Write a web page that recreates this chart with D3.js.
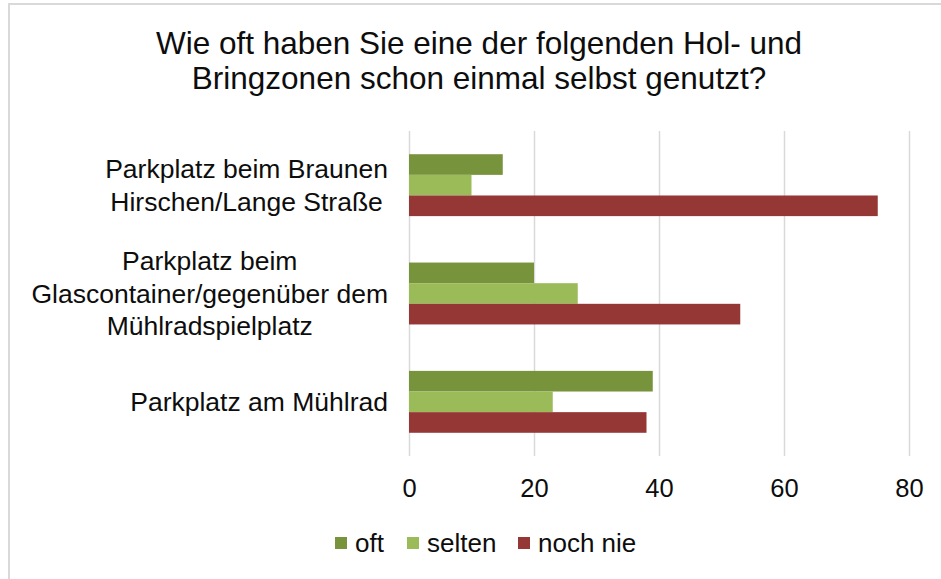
<!DOCTYPE html>
<html lang="de">

<head>
    <meta charset="UTF-8">
    <title>Hol- und Bringzonen</title>
    <script src="https://d3js.org/d3.v7.min.js"></script>
    <style>
        body {
            margin: 0;
            background: #fff;
            overflow: hidden;
        }

        text {
            font-family: "Liberation Sans", Arial, sans-serif;
            fill: #0d0d0d;
        }

        .grid line {
            stroke: #d9d9d9;
            stroke-width: 1.5px;
        }

        .grid .domain {
            display: none;
        }
    </style>
</head>

<body>
    <div id="chart"></div>
</body>

<script>
    // data
    const titleLines = ["Wie oft haben Sie eine der folgenden Hol- und", "Bringzonen schon einmal selbst genutzt?"];
    const categories = ["braun", "glas", "muehl"];
    const categoryLabels = [
        ["Parkplatz beim Braunen", "Hirschen/Lange Straße"],
        ["Parkplatz beim", "Glascontainer/gegenüber dem", "Mühlradspielplatz"],
        ["Parkplatz am Mühlrad"]
    ];
    const seriesNames = ["oft", "selten", "noch nie"];
    const oft = [15, 20, 39];
    const selten = [10, 27, 23];
    const nochNie = [75, 53, 38];
    const xTicks = [0, 20, 40, 60, 80];
    const colors = ["#77933c", "#9bbb59", "#953735"];

    const width = 941;
    const height = 579;
    const seriesValues = [oft, selten, nochNie];

    const svg = d3.select("#chart")
        .append("svg")
        .attr("width", width)
        .attr("height", height);

    // outer chart frame (continues past the right/bottom edge)
    svg.append("rect")
        .attr("x", 9)
        .attr("y", 4)
        .attr("width", 1000)
        .attr("height", 1000)
        .attr("fill", "none")
        .attr("stroke", "#d9d9d9")
        .attr("stroke-width", 2);

    svg.append("g")
        .selectAll("text")
        .data(titleLines)
        .join("text")
        .attr("x", 479)
        .attr("y", (d, i) => 54 + i * 35)
        .attr("text-anchor", "middle")
        .style("font-size", "31.5px")
        .text(d => d);

    const plot = { left: 409, right: 909, top: 131, bottom: 456 };

    const x = d3.scaleLinear()
        .domain([0, 80])
        .range([plot.left, plot.right]);

    const y = d3.scaleBand()
        .domain(categories)
        .range([plot.top, plot.bottom])
        .paddingInner(0.4286)
        .paddingOuter(0.2143);

    const ySeries = d3.scaleBand()
        .domain(seriesNames)
        .range([0, y.bandwidth()]);

    const grid = svg.append("g")
        .attr("class", "grid")
        .attr("transform", `translate(0,${plot.bottom})`)
        .call(d3.axisBottom(x)
            .tickValues(xTicks)
            .tickSize(-(plot.bottom - plot.top))
            .tickPadding(23));
    grid.selectAll("text")
        .style("font-size", "25.5px")
        .attr("font-family", null)
        .attr("fill", null);

    const groups = svg.append("g")
        .selectAll("g")
        .data(categories)
        .join("g")
        .attr("transform", d => `translate(0,${y(d)})`);

    groups.selectAll("rect")
        .data((d, i) => seriesNames.map((s, j) => ({ s, j, v: seriesValues[j][i] })))
        .join("rect")
        .attr("x", x(0))
        .attr("y", d => ySeries(d.s))
        .attr("width", d => x(d.v) - x(0))
        .attr("height", ySeries.bandwidth())
        .attr("fill", d => colors[d.j]);

    // category labels, wrapped lines centred in a block that ends at labelRight
    const labelRight = 388;
    const lineH = 32.5;
    const labels = svg.append("g")
        .selectAll("text")
        .data(categories)
        .join("text")
        .style("font-size", "26.5px")
        .attr("text-anchor", "middle");

    labels.each(function (d, i) {
        const lines = categoryLabels[i];
        const t = d3.select(this);
        t.selectAll("tspan")
            .data(lines)
            .join("tspan")
            .attr("y", (l, k) => y(d) + y.bandwidth() / 2 + (k - (lines.length - 1) / 2) * lineH)
            .attr("dy", "0.35em")
            .text(l => l);
        const w = d3.max(t.selectAll("tspan").nodes(), n => n.getComputedTextLength());
        t.selectAll("tspan").attr("x", labelRight - w / 2);
    });

    // legend
    const legendX = [335, 407, 518];
    const legend = svg.append("g")
        .selectAll("g")
        .data(seriesNames)
        .join("g")
        .attr("transform", (d, i) => `translate(${legendX[i]},537)`);
    legend.append("rect")
        .attr("width", 12)
        .attr("height", 12)
        .attr("fill", (d, i) => colors[i]);
    legend.append("text")
        .attr("x", 20)
        .attr("y", 15)
        .style("font-size", "26px")
        .text(d => d);
</script>

</html>
